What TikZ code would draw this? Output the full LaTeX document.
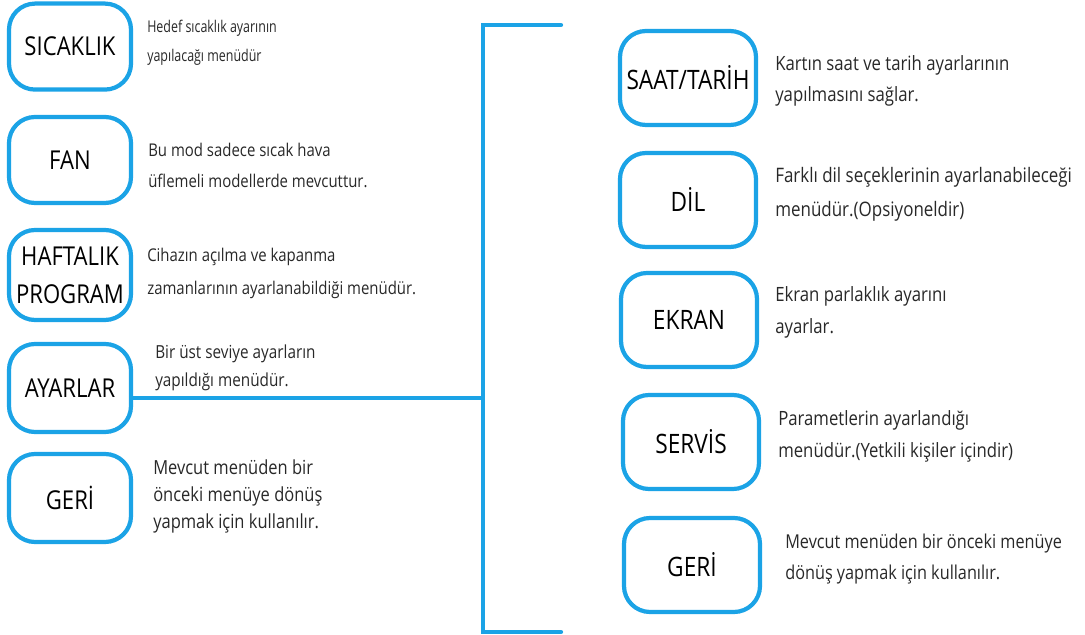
\documentclass[tikz,border=0pt]{standalone}
\usepackage{fontspec}
\setmainfont{Open Sans}[FakeStretch=0.85]
\begin{document}
\begin{tikzpicture}[
    menubox/.style={shape=rectangle,draw=menu_blue,line width=3pt,rounded corners=0.65cm,
      inner sep=0pt,align=center},
    leftbox/.style={menubox,minimum width=3.05cm,minimum height=2.15cm,
      font=\fontsize{18.5}{22}\selectfont},
    rightbox/.style={menubox,minimum width=3.4cm,minimum height=2.35cm,
      font=\fontsize{19}{22}\selectfont},
    infotext/.style={anchor=west,align=left,inner sep=0pt,text=info_grey,
      font=\fontsize{12.5}{22}\selectfont},
    rightinfo/.style={infotext,font=\fontsize{14}{22.5}\selectfont},
    bracketline/.style={draw=menu_blue,line width=3pt,line cap=round}]
    \definecolor{menu_blue}{RGB}{27,163,230}
    \definecolor{info_grey}{RGB}{40,40,40}
    \useasboundingbox (0,0) rectangle (27.125,15.875);
    % left column
    \node[leftbox] (sicaklik) at (1.75,14.71) {SICAKLIK};
    \node[leftbox] (fan) at (1.75,11.875) {FAN};
    \node[leftbox,minimum height=2.25cm] (haftalik) at (1.75,9.0) {HAFTALIK\\[5pt]PROGRAM};
    \node[leftbox,minimum height=2.2cm] (ayarlar) at (1.75,6.175) {AYARLAR};
    \node[leftbox,minimum height=2.2cm] (geri_a) at (1.75,3.425) {GERİ};
    \node[infotext,font=\fontsize{11.5}{21}\selectfont\addfontfeatures{FakeStretch=0.77}] (sicaklik_t) at (3.675,14.8)
      {Hedef sıcaklık ayarının\\yapılacağı menüdür};
    \node[infotext] (fan_t) at (3.7,11.75)
      {Bu mod sadece sıcak hava\\üflemeli modellerde mevcuttur.};
    \node[infotext,font=\fontsize{12.5}{23.5}\selectfont] (haftalik_t) at (3.675,9.04)
      {Cihazın açılma ve kapanma\\zamanlarının ayarlanabildiği menüdür.};
    \node[infotext,font=\fontsize{12.8}{20}\selectfont] (ayarlar_t) at (3.875,6.675)
      {Bir üst seviye ayarların\\yapıldığı menüdür.};
    \node[infotext,font=\fontsize{13.8}{19}\selectfont] (geri_a_t) at (3.825,3.46)
      {Mevcut menüden bir\\önceki menüye dönüş\\yapmak için kullanılır.};
    % right column
    \node[rightbox] (saat) at (17.2,13.925) {SAAT/TARİH};
    \node[rightbox] (dil) at (17.2,10.875) {DİL};
    \node[rightbox] (ekran) at (17.225,7.875) {EKRAN};
    \node[rightbox] (servis) at (17.275,4.825) {SERVİS};
    \node[rightbox] (geri_b) at (17.3,1.75) {GERİ};
    \node[rightinfo] (saat_t) at (19.375,13.85)
      {Kartın saat ve tarih ayarlarının\\yapılmasını sağlar.};
    \node[rightinfo,font=\fontsize{14.2}{24}\selectfont] (dil_t) at (19.375,11.025)
      {Farklı dil seçeklerinin ayarlanabileceği\\menüdür.(Opsiyoneldir)};
    \node[rightinfo] (ekran_t) at (19.375,8.06)
      {Ekran parlaklık ayarını\\ayarlar.};
    \node[rightinfo] (servis_t) at (19.45,4.96)
      {Parametlerin ayarlandığı\\menüdür.(Yetkili kişiler içindir)};
    \node[rightinfo,font=\fontsize{13.6}{22.5}\selectfont] (geri_b_t) at (19.625,1.9)
      {Mevcut menüden bir önceki menüye\\dönüş yapmak için kullanılır.};
    % bracket
    \coordinate (brk_top) at (12.075,15.25);
    \coordinate (brk_bot) at (12.075,0.075);
    \coordinate (brk_join) at (12.075,5.925);
    \draw[bracketline] (14.025,15.25) -- (brk_top) -- (brk_bot) -- (14.025,0.075);
    \draw[bracketline,line cap=butt] (ayarlar.east |- brk_join) -- (brk_join);
\end{tikzpicture}
\end{document}
